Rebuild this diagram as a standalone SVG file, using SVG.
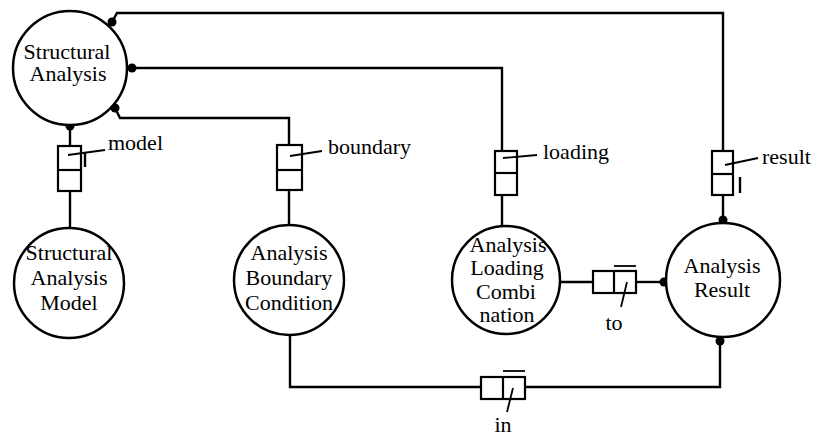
<svg xmlns="http://www.w3.org/2000/svg" width="814" height="436" viewBox="0 0 814 436">
<style>
.c{fill:#fff;stroke:#000;stroke-width:2.5}
.b{fill:#fff;stroke:#000;stroke-width:2.2}
.ln{fill:none;stroke:#000;stroke-width:2.4}
.thin{fill:none;stroke:#000;stroke-width:1.8}
.d{fill:#000}
.t{font-family:"Liberation Serif","Times New Roman",serif;font-size:22px;fill:#000;text-anchor:middle}
.lb{font-family:"Liberation Serif","Times New Roman",serif;font-size:22px;fill:#000;text-anchor:start}
</style>
<rect width="814" height="436" fill="#fff"/>
<g id="connectors">
  <path class="ln" d="M112,22 L117,13 L723,13 L723,151"/>
  <path class="ln" d="M132,68 L502,68 L502,151"/>
  <path class="ln" d="M115,108 L120,118 L289,118 L289,145"/>
  <path class="ln" d="M70,126 L70,145"/>
  <path class="ln" d="M70,191 L70,229"/>
  <path class="ln" d="M289,190 L289,225"/>
  <path class="ln" d="M502,195 L502,226"/>
  <path class="ln" d="M723,195 L723,220"/>
  <path class="ln" d="M560,282 L593,282"/>
  <path class="ln" d="M636,282 L662,282"/>
  <path class="ln" d="M290,335 L290,387 L481,387"/>
  <path class="ln" d="M525,387 L720,387 L720,342"/>
  <circle class="d" cx="112" cy="22" r="4.5"/>
  <circle class="d" cx="132" cy="68" r="4.5"/>
  <circle class="d" cx="115" cy="108" r="4.5"/>
  <circle class="d" cx="70" cy="126" r="4.5"/>
  <circle class="d" cx="723" cy="220" r="4.5"/>
  <circle class="d" cx="664" cy="282" r="4.5"/>
  <circle class="d" cx="720" cy="341" r="4.5"/>
  <g id="rel-model">
    <rect class="b" x="58" y="146" width="23" height="45"/>
    <line class="b" x1="58" y1="170" x2="81" y2="170"/>
    <line class="thin" x1="68" y1="155" x2="105" y2="150"/>
    <line class="ln" x1="85" y1="152" x2="85" y2="167"/>
    <text class="lb" x="108" y="150">model</text>
  </g>
  <g id="rel-boundary">
    <rect class="b" x="277" y="145" width="25" height="45"/>
    <line class="b" x1="277" y1="170" x2="302" y2="170"/>
    <line class="thin" x1="290" y1="156" x2="322" y2="151"/>
    <text class="lb" x="328" y="154">boundary</text>
  </g>
  <g id="rel-loading">
    <rect class="b" x="495" y="151" width="22" height="44"/>
    <line class="b" x1="495" y1="173" x2="517" y2="173"/>
    <line class="thin" x1="503" y1="158" x2="537" y2="155"/>
    <text class="lb" x="543" y="159">loading</text>
  </g>
  <g id="rel-result">
    <rect class="b" x="712" y="151" width="21" height="44"/>
    <line class="b" x1="712" y1="174" x2="733" y2="174"/>
    <line class="thin" x1="725" y1="165" x2="758" y2="158"/>
    <line class="ln" x1="740" y1="177" x2="740" y2="193"/>
    <text class="lb" x="762" y="164">result</text>
  </g>
  <g id="rel-to">
    <rect class="b" x="593" y="271" width="43" height="22"/>
    <line class="b" x1="614" y1="271" x2="614" y2="293"/>
    <line class="thin" x1="614" y1="266" x2="636" y2="266"/>
    <line class="thin" x1="627" y1="282" x2="621" y2="307"/>
    <text class="t" x="614" y="330">to</text>
  </g>
  <g id="rel-in">
    <rect class="b" x="481" y="377" width="44" height="22"/>
    <line class="b" x1="503" y1="377" x2="503" y2="399"/>
    <line class="thin" x1="503" y1="371" x2="525" y2="371"/>
    <line class="thin" x1="513" y1="388" x2="507" y2="412"/>
    <text class="t" x="503" y="432">in</text>
  </g>
</g>
<g id="structural-analysis">
  <circle class="c" cx="70" cy="68" r="57"/>
  <text class="t" x="67" y="59">Structural</text>
  <text class="t" x="68" y="81">Analysis</text>
</g>
<g id="structural-analysis-model">
  <circle class="c" cx="69" cy="283" r="55"/>
  <text class="t" x="69" y="260">Structural</text>
  <text class="t" x="69" y="285">Analysis</text>
  <text class="t" x="69" y="310">Model</text>
</g>
<g id="analysis-boundary-condition">
  <circle class="c" cx="289" cy="280" r="55"/>
  <text class="t" x="289" y="260">Analysis</text>
  <text class="t" x="289" y="285">Boundary</text>
  <text class="t" x="289" y="310">Condition</text>
</g>
<g id="analysis-loading-combination">
  <circle class="c" cx="506" cy="280" r="54"/>
  <text class="t" x="508" y="252">Analysis</text>
  <text class="t" x="507" y="275">Loading</text>
  <text class="t" x="506" y="299">Combi</text>
  <text class="t" x="507" y="322">nation</text>
</g>
<g id="analysis-result">
  <circle class="c" cx="723" cy="280" r="57"/>
  <text class="t" x="722" y="273">Analysis</text>
  <text class="t" x="722" y="297">Result</text>
</g>
</svg>
